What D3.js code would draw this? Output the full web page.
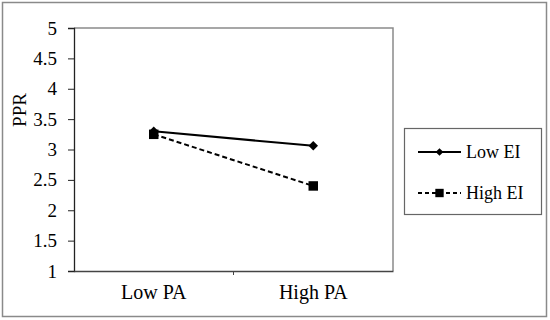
<!DOCTYPE html>
<html>
<head>
<meta charset="utf-8">
<script src="https://cdn.jsdelivr.net/npm/d3@7"></script>
<style>
  body { margin: 0; background: #fff; }
  svg text { font-family: "Times New Roman", "Liberation Serif", Times, serif !important; fill: #000; }
</style>
</head>
<body>
<svg width="550" height="320"></svg>
<script>
var categories = ["Low PA", "High PA"];
var lowEI = [3.30, 3.06];
var highEI = [3.25, 2.40];
var yTicks = [1, 1.5, 2, 2.5, 3, 3.5, 4, 4.5, 5];
var seriesNames = ["Low EI", "High EI"];

var svg = d3.select("svg");

// outer frame
svg.append("rect")
  .attr("x", 2.5).attr("y", 2.5)
  .attr("width", 544).attr("height", 314)
  .attr("fill", "none").attr("stroke", "#8a8a8a").attr("stroke-width", 1.5);

var plot = { left: 74, top: 28, right: 393, bottom: 271 };

var x = d3.scaleBand().domain(categories).range([plot.left, plot.right]);
var y = d3.scaleLinear().domain([1, 5]).range([plot.bottom, plot.top]);

// plot box (top/right gray)
svg.append("path")
  .attr("d", "M" + plot.left + "," + plot.top + "H" + plot.right + "V" + plot.bottom)
  .attr("fill", "none").attr("stroke", "#8a8a8a").attr("stroke-width", 1.5);

// y axis
var yAxis = svg.append("g")
  .attr("transform", "translate(" + plot.left + ",0)")
  .call(d3.axisLeft(y).tickValues(yTicks).tickSize(6).tickPadding(11)
    .tickFormat(function(d) { return d; }));
yAxis.select(".domain").attr("stroke", "#222").attr("stroke-width", 1.3);
yAxis.selectAll(".tick line").attr("stroke", "#222");
yAxis.selectAll("text").style("font-size", "19px");

// x axis
var xAxis = svg.append("g")
  .attr("transform", "translate(0," + plot.bottom + ")")
  .call(d3.axisBottom(x).tickSize(0).tickPadding(14));
xAxis.select(".domain").attr("stroke", "#444").attr("stroke-width", 1.3);
xAxis.selectAll("text").style("font-size", "20px");
// middle divider tick
xAxis.append("line")
  .attr("x1", (plot.left + plot.right) / 2).attr("x2", (plot.left + plot.right) / 2)
  .attr("y1", 0).attr("y2", 4)
  .attr("stroke", "#444");

// y label
svg.append("text")
  .attr("transform", "translate(26,110) rotate(-90)")
  .attr("text-anchor", "middle")
  .style("font-size", "19px")
  .text("PPR");

var cx = function(i) { return x(categories[i]) + x.bandwidth() / 2; };
var line = d3.line().x(function(d, i) { return cx(i); }).y(function(d) { return y(d); });

svg.append("path").datum(lowEI)
  .attr("d", line).attr("fill", "none").attr("stroke", "#000").attr("stroke-width", 2);
svg.append("path").datum(highEI)
  .attr("d", line).attr("fill", "none").attr("stroke", "#000").attr("stroke-width", 2)
  .attr("stroke-dasharray", "5,3");

var diamond = d3.symbol().type(d3.symbolSquare).size(45);
var square = d3.symbol().type(d3.symbolSquare).size(90);

svg.selectAll(".dm").data(lowEI).enter().append("path")
  .attr("d", diamond)
  .attr("transform", function(d, i) { return "translate(" + cx(i) + "," + y(d) + ") rotate(45)"; })
  .attr("fill", "#000");
svg.selectAll(".sq").data(highEI).enter().append("path")
  .attr("d", square)
  .attr("transform", function(d, i) { return "translate(" + cx(i) + "," + y(d) + ")"; })
  .attr("fill", "#000");

// legend
var lg = svg.append("g");
lg.append("rect")
  .attr("x", 404.5).attr("y", 128.5).attr("width", 137).attr("height", 86)
  .attr("fill", "none").attr("stroke", "#666").attr("stroke-width", 1.2);

var legY = [152, 193];
seriesNames.forEach(function(name, i) {
  var g = lg.append("g").attr("transform", "translate(0," + legY[i] + ")");
  g.append("line").attr("x1", 418).attr("x2", 461).attr("y1", 0).attr("y2", 0)
    .attr("stroke", "#000").attr("stroke-width", 2)
    .attr("stroke-dasharray", i === 1 ? "4,3" : null);
  g.append("path").attr("d", i === 0 ? d3.symbol().type(d3.symbolSquare).size(30) : d3.symbol().type(d3.symbolSquare).size(70))
    .attr("transform", "translate(439.5,0)" + (i === 0 ? " rotate(45)" : "")).attr("fill", "#000");
  g.append("text").attr("x", 466).attr("y", 6)
    .style("font-size", "18px").text(name);
});
</script>
</body>
</html>
